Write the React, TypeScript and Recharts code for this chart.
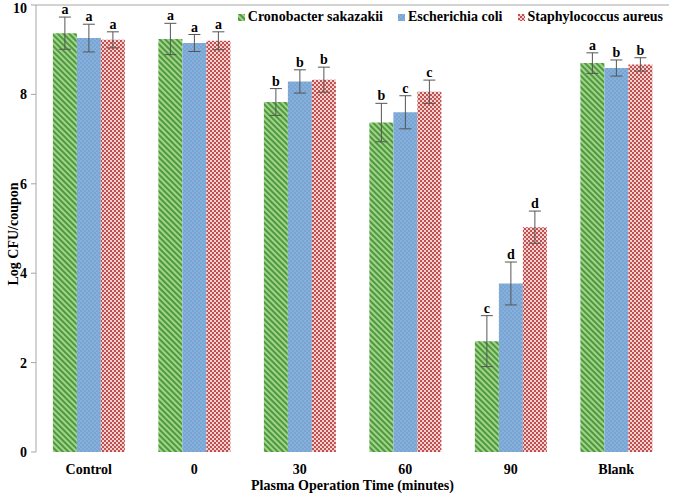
import React from 'react';
import {
  BarChart, Bar, XAxis, YAxis, ErrorBar, LabelList, Legend, ReferenceLine,
} from 'recharts';

const categories = ['Control', '0', '30', '60', '90', 'Blank'];

const cronobacter = [9.37, 9.24, 7.83, 7.37, 2.48, 8.7];
const ecoli = [9.26, 9.15, 8.29, 7.6, 3.77, 8.59];
const staph = [9.22, 9.2, 8.33, 8.06, 5.03, 8.67];

const cronobacterErr = [0.36, 0.35, 0.3, 0.43, 0.57, 0.23];
const ecoliErr = [0.31, 0.19, 0.26, 0.37, 0.48, 0.18];
const staphErr = [0.18, 0.2, 0.28, 0.26, 0.36, 0.15];

const cronobacterLetters = ['a', 'a', 'b', 'b', 'c', 'a'];
const ecoliLetters = ['a', 'a', 'b', 'c', 'd', 'b'];
const staphLetters = ['a', 'a', 'b', 'c', 'd', 'b'];

const yTicks = [0, 2, 4, 6, 8, 10];
const gridTicks = [0, 1, 2, 3, 4, 5, 6];

const FONT = 'Liberation Serif, DejaVu Serif, serif';
const AXIS_GREY = '#a6a6a6';

const data = categories.map((name, i) => ({
  name,
  c: cronobacter[i],
  e: ecoli[i],
  s: staph[i],
  cErr: cronobacterErr[i],
  eErr: ecoliErr[i],
  sErr: staphErr[i],
}));

const series = [
  { key: 'c', errKey: 'cErr', name: 'Cronobacter sakazakii', fill: 'url(#greenStripe)', errs: cronobacterErr, letters: cronobacterLetters },
  { key: 'e', errKey: 'eErr', name: 'Escherichia coli', fill: 'url(#blueDots)', errs: ecoliErr, letters: ecoliLetters },
  { key: 's', errKey: 'sErr', name: 'Staphylococcus aureus', fill: 'url(#redCheck)', errs: staphErr, letters: staphLetters },
];

// letter sits just above the top of the error bar; px per unit comes from the bar itself
const makeLetterLabel = (errs: number[], letters: string[]) => (props: any) => {
  const { x, y, width, height, value, index } = props;
  if (!value) return null;
  const pxPerUnit = height / value;
  const top = y - errs[index] * pxPerUnit;
  return (
    <text
      x={x + width / 2}
      y={top - 3}
      textAnchor="middle"
      style={{ fontFamily: FONT, fontWeight: 'bold', fontSize: 14 }}
      fill="#000"
    >
      {letters[index]}
    </text>
  );
};

const LegendContent = () => (
  <div style={{ display: 'flex', alignItems: 'center', fontFamily: FONT, fontWeight: 'bold', fontSize: 14, color: '#000', whiteSpace: 'nowrap' }}>
    {series.map((s, i) => (
      <span key={s.key} style={{ display: 'flex', alignItems: 'center', marginLeft: i === 0 ? 0 : 15 }}>
        <svg width={7} height={7} style={{ marginRight: 3 }}>
          <rect width={7} height={7} fill={s.fill} />
        </svg>
        {s.name}
      </span>
    ))}
  </div>
);

const textStyle = { fontFamily: FONT, fontWeight: 'bold', fontSize: 14, fill: '#000' };

const App: React.FC = () => {
  return (
    <div style={{ position: 'absolute', left: 0, top: 0, background: '#fff', fontFamily: FONT }}>
      <BarChart
        width={675}
        height={496}
        data={data}
        margin={{ top: 5, right: 6, left: 0, bottom: 0 }}
        barCategoryGap="16%"
        barGap={0}
      >
        <defs>
          <pattern id="greenStripe" width="4" height="4" patternUnits="userSpaceOnUse" patternTransform="rotate(-45)">
            <rect width="4" height="4" fill="#a3d28e" />
            <rect width="2" height="4" fill="#4c9a3a" />
          </pattern>
          <pattern id="blueDots" width="4" height="4" patternUnits="userSpaceOnUse">
            <rect width="4" height="4" fill="#78a5d3" />
            <rect width="2" height="2" fill="#86afd9" />
            <rect x="2" y="2" width="2" height="2" fill="#86afd9" />
          </pattern>
          <pattern id="redCheck" width="4" height="4" patternUnits="userSpaceOnUse">
            <rect width="4" height="4" fill="#f3d2d1" />
            <rect width="2" height="2" fill="#c0504d" />
            <rect x="2" y="2" width="2" height="2" fill="#c0504d" />
          </pattern>
        </defs>
        <XAxis
          xAxisId="grid"
          type="number"
          domain={[0, 6]}
          ticks={gridTicks}
          height={0}
          tick={false}
          tickSize={5}
          axisLine={{ stroke: AXIS_GREY }}
          tickLine={{ stroke: AXIS_GREY }}
        />
        <XAxis
          dataKey="name"
          height={44}
          axisLine={false}
          tickLine={false}
          tickSize={0}
          tickMargin={12}
          tick={textStyle}
          label={{
            value: 'Plasma Operation Time (minutes)',
            position: 'insideBottom',
            offset: 6,
            style: textStyle,
          }}
        />
        <YAxis
          domain={[0, 10]}
          ticks={yTicks}
          width={36}
          tickSize={5}
          tickMargin={4}
          axisLine={{ stroke: AXIS_GREY }}
          tickLine={{ stroke: AXIS_GREY }}
          tick={textStyle}
          label={{
            content: () => (
              <text
                x={13}
                y={234}
                transform="rotate(-90 13 234)"
                textAnchor="middle"
                dominantBaseline="central"
                style={textStyle}
              >
                Log CFU/coupon
              </text>
            ),
          }}
        />
        <YAxis yAxisId="frame" orientation="right" width={0} tick={false} tickLine={false} axisLine={{ stroke: AXIS_GREY }} domain={[0, 10]} />
        <ReferenceLine y={10} stroke={AXIS_GREY} />
        <Legend
          layout="horizontal"
          verticalAlign="middle"
          align="center"
          content={<LegendContent />}
          wrapperStyle={{ top: 9, right: 12, left: 'auto', width: 'auto' }}
        />
        {series.map((s) => (
          <Bar key={s.key} dataKey={s.key} name={s.name} fill={s.fill} isAnimationActive={false}>
            <ErrorBar dataKey={s.errKey} width={6} stroke="#555" strokeWidth={1} direction="y" isAnimationActive={false} />
            <LabelList dataKey={s.key} content={makeLetterLabel(s.errs, s.letters)} />
          </Bar>
        ))}
      </BarChart>
    </div>
  );
};

export default App;
